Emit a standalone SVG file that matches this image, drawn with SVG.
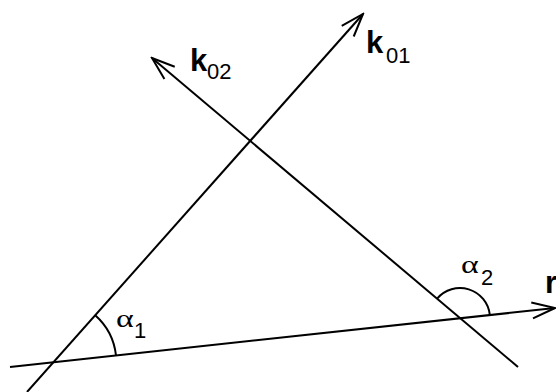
<svg xmlns="http://www.w3.org/2000/svg" width="556" height="392" viewBox="0 0 556 392">
<style>
.ln{stroke:#000;stroke-width:2;fill:none}
.k{font-family:"Liberation Sans",Arial,sans-serif;font-weight:bold;font-size:31px}
.sub{font-family:"Liberation Sans",Arial,sans-serif;font-size:22px}
.al{font-family:"Liberation Serif","Times New Roman",serif;font-size:25px}
</style>
<defs>
<marker id="arr" viewBox="0 -10 26 20" refX="24" refY="0" markerWidth="26" markerHeight="20" markerUnits="userSpaceOnUse" orient="auto">
<path d="M1,-8 L24,0 L1,8" fill="none" stroke="#000" stroke-width="2"/>
</marker>
</defs>
<rect width="556" height="392" fill="#fff"/>
<g id="connectors">
<path id="k01-line" class="ln" d="M27,392 L363,14" marker-end="url(#arr)"/>
<path id="k02-line" class="ln" d="M518,367 L152,58" marker-end="url(#arr)"/>
<path id="r-line" class="ln" d="M10,367 L555,308" marker-end="url(#arr)"/>
<path id="alpha1-arc" class="ln" d="M95.2,315.2 A63,63 0 0 1 116,355.5"/>
<path id="alpha2-arc" class="ln" d="M437.1,298.6 A30,30 0 0 1 489.8,314.8"/>
</g>
<g id="k01"><text x="366" y="53" class="k">k</text><text x="386" y="63" class="sub">01</text></g>
<g id="k02"><text x="190" y="71" class="k">k</text><text x="207" y="79" class="sub">02</text></g>
<g id="r"><text x="545" y="293" class="k">r</text></g>
<g id="alpha1"><text class="al" transform="translate(116,327) scale(1.35,1)">α</text><text x="134" y="338" class="sub">1</text></g>
<g id="alpha2"><text class="al" transform="translate(461,273) scale(1.35,1)">α</text><text x="481" y="285" class="sub">2</text></g>
</svg>
